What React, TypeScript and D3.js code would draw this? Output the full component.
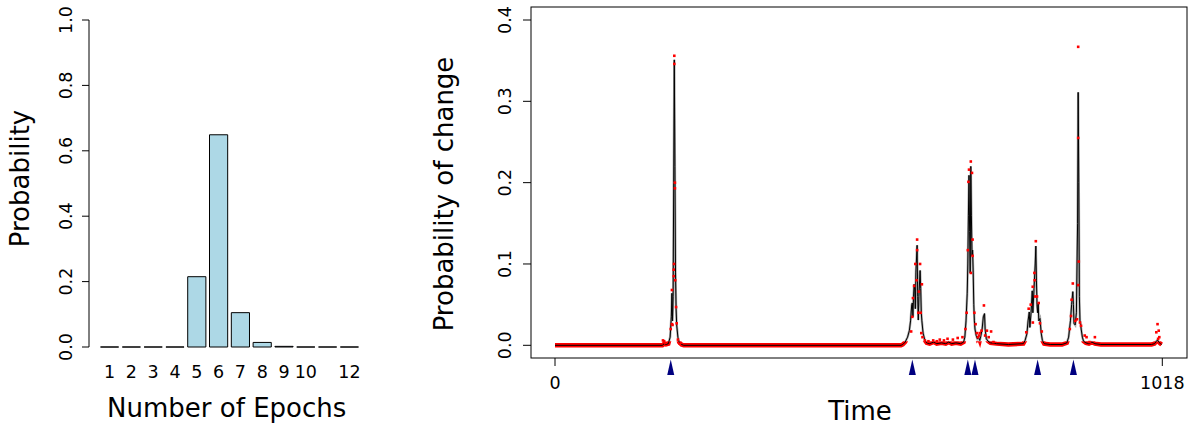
import React from 'react';
import * as d3 from 'd3';

// left panel: posterior of number of epochs
const epochs = [1, 2, 3, 4, 5, 6, 7, 8, 9, 10, 11, 12];
const epochProb = [0, 0, 0, 0, 0.215, 0.649, 0.105, 0.014, 0.002, 0, 0, 0];
const epochLabels = ['1', '2', '3', '4', '5', '6', '7', '8', '9', '10', '', '12'];
const probTicks = [0, 0.2, 0.4, 0.6, 0.8, 1.0];

// right panel: probability of change over time
const changeTicks = [0, 0.1, 0.2, 0.3, 0.4];
const timeTicks = [0, 1018];
const changePoints = [194, 599, 692, 704, 809, 869];

// [time, probability] for the black curve
const meanCurve: [number, number][] = [
  [0, 0], [180, 0], [183, 0.002], [186, 0.001], [190, 0.002], [193, 0.01], [195, 0.035],
  [196, 0.064], [197, 0.03], [198, 0.06], [199, 0.2], [200, 0.351], [201, 0.22], [202, 0.09],
  [203, 0.045], [204, 0.025], [206, 0.01], [208, 0.004], [212, 0.001], [216, 0], [580, 0],
  [583, 0.001], [587, 0.004], [591, 0.01], [594, 0.018], [596, 0.03], [598, 0.05], [599, 0.052],
  [600, 0.035], [601, 0.06], [602, 0.075], [603, 0.068], [604, 0.045], [605, 0.09], [607, 0.123],
  [608, 0.06], [609, 0.031], [610, 0.06], [612, 0.092], [613, 0.07], [614, 0.04], [615, 0.03],
  [617, 0.015], [620, 0.006], [623, 0.003], [628, 0.002], [635, 0.004], [640, 0.002], [648, 0.003],
  [655, 0.002], [660, 0.004], [665, 0.002], [672, 0.003], [680, 0.002], [685, 0.004], [687, 0.01],
  [689, 0.03], [691, 0.064], [692, 0.1], [693, 0.16], [694, 0.209], [695, 0.14], [696, 0.089],
  [697, 0.22], [698, 0.16], [699, 0.11], [700, 0.117], [701, 0.09], [702, 0.05], [703, 0.03],
  [704, 0.02], [706, 0.012], [708, 0.008], [710, 0.01], [712, 0.006], [714, 0.012], [716, 0.02],
  [718, 0.035], [720, 0.039], [721, 0.02], [723, 0.008], [726, 0.005], [730, 0.003], [740, 0.002],
  [760, 0.001], [785, 0.002], [788, 0.006], [791, 0.014], [793, 0.03], [795, 0.041], [796, 0.022],
  [798, 0.04], [800, 0.067], [801, 0.04], [803, 0.07], [805, 0.1], [806, 0.122], [807, 0.08],
  [808, 0.05], [809, 0.04], [810, 0.052], [811, 0.03], [813, 0.033], [815, 0.015], [817, 0.006],
  [820, 0.002], [830, 0.001], [850, 0.001], [858, 0.003], [861, 0.01], [864, 0.03], [866, 0.05],
  [868, 0.066], [869, 0.05], [870, 0.027], [872, 0.025], [874, 0.04], [876, 0.15], [877, 0.311],
  [878, 0.2], [879, 0.06], [880, 0.03], [881, 0.027], [882, 0.02], [884, 0.01], [886, 0.005],
  [890, 0.003], [895, 0.002], [900, 0.004], [905, 0.002], [915, 0.001], [1000, 0.001],
  [1005, 0.002], [1008, 0.005], [1010, 0.0065], [1012, 0.004], [1015, 0.002], [1017, 0.001],
];

// [time, probability] for the red points away from the baseline
const samplePoints: [number, number][] = [
  [181, 0.006], [183, 0.005], [185, 0.003], [194, 0.02], [196, 0.068], [196, 0.026], [197, 0.025],
  [199, 0.085], [199, 0.093], [199.5, 0.1], [200, 0.356], [200, 0.346], [201, 0.2], [201, 0.193],
  [201.5, 0.08], [203, 0.047], [204, 0.027], [206, 0.007], [209, 0.002],
  [597, 0.017], [599, 0.035], [600, 0.058], [602, 0.073], [604, 0.1], [606, 0.08], [607, 0.13],
  [607, 0.117], [609, 0.04], [610, 0.066], [612, 0.1], [613, 0.04], [614, 0.015], [615, 0.075],
  [616, 0.01], [620, 0.006], [626, 0.005], [634, 0.006], [640, 0.005], [645, 0.007], [652, 0.006],
  [658, 0.008], [667, 0.007], [675, 0.009], [683, 0.01], [688, 0.02], [690, 0.04], [692, 0.117],
  [693, 0.201], [694, 0.216], [697, 0.226], [697, 0.089], [699, 0.212], [700, 0.13], [700, 0.11],
  [703, 0.04], [705, 0.026], [707, 0.015], [709, 0.01], [711, 0.012], [712, 0.015], [715, 0.018],
  [719, 0.049], [721, 0.012], [724, 0.018], [727, 0.01], [731, 0.017], [735, 0.004],
  [790, 0.016], [794, 0.045], [797.5, 0.05], [800.8, 0.072], [801, 0.028], [803.6, 0.089],
  [804, 0.08], [805, 0.06], [806, 0.128], [808, 0.06], [810.8, 0.052], [813, 0.027], [816, 0.017],
  [863, 0.02], [865, 0.036], [866, 0.056], [868, 0.076], [872, 0.03], [875, 0.032], [877, 0.367],
  [877, 0.255], [877, 0.074], [878, 0.103], [880, 0.028], [881.8, 0.024], [888, 0.012],
  [891, 0.01], [896, 0.004], [905, 0.01],
  [1008, 0.016], [1010, 0.026], [1011, 0.008], [1012, 0.018], [1013, 0.01],
];

const font = 'DejaVu Sans, sans-serif';
const tickSize = 17.5;
const titleSize = 26;

const App = () => {
  // left panel scales
  const xBar = d3
    .scaleBand<number>()
    .domain(epochs)
    .range([100.5, 358.5])
    .paddingInner(0.2 / 1.2)
    .paddingOuter(0);
  const yBar = d3.scaleLinear().domain([0, 1]).range([347, 20]);

  // right panel scales
  const xTime = d3.scaleLinear().domain([0, 1018]).range([555, 1162.3]);
  const yChange = d3.scaleLinear().domain([0, 0.4]).range([345.3, 20]);
  const box = { left: 531, right: 1187, top: 7, bottom: 358 };
  const cutY = yChange(0.005);

  const line = d3
    .line<[number, number]>()
    .x((d) => xTime(d[0]))
    .y((d) => yChange(d[1]));
  const curvePath = line(meanCurve) || '';

  return (
    <svg
      width={1188}
      height={426}
      style={{ position: 'absolute', left: 0, top: 0 }}
      fontFamily={font}
    >
      <rect width={1188} height={426} fill="#fff" />

      {/* left panel */}
      {epochs.map((e, i) => {
        const x0 = xBar(e) || 0;
        const x1 = x0 + xBar.bandwidth();
        const y0 = yBar(0);
        const y1 = yBar(epochProb[i]);
        return (
          <path
            key={e}
            d={`M${x0},${y0} L${x0},${y1} L${x1},${y1} L${x1},${y0} Z`}
            fill="#add8e6"
            stroke="#000"
            strokeWidth={1}
          />
        );
      })}
      <line x1={89} x2={89} y1={yBar(0)} y2={yBar(1)} stroke="#000" />
      {probTicks.map((t) => (
        <g key={t}>
          <line x1={82} x2={89} y1={yBar(t)} y2={yBar(t)} stroke="#000" />
          <text
            transform={`translate(72,${yBar(t)}) rotate(-90)`}
            textAnchor="middle"
            fontSize={tickSize}
          >
            {t.toFixed(1)}
          </text>
        </g>
      ))}
      {epochs.map((e, i) => (
        <text
          key={e}
          x={(xBar(e) || 0) + xBar.bandwidth() / 2}
          y={377.5}
          textAnchor="middle"
          fontSize={tickSize}
        >
          {epochLabels[i]}
        </text>
      ))}
      <text x={226.7} y={416.5} textAnchor="middle" fontSize={titleSize}>
        Number of Epochs
      </text>
      <text
        transform="translate(29.3,178.5) rotate(-90)"
        textAnchor="middle"
        fontSize={titleSize}
      >
        Probability
      </text>

      {/* right panel */}
      <defs>
        <clipPath id="base-clip">
          <rect x={box.left} y={cutY} width={box.right - box.left} height={box.bottom - cutY} />
        </clipPath>
        <clipPath id="peak-clip">
          <rect x={box.left} y={box.top} width={box.right - box.left} height={cutY - box.top} />
        </clipPath>
      </defs>
      <path
        d={curvePath}
        fill="none"
        stroke="#f00"
        strokeWidth={4.4}
        clipPath="url(#base-clip)"
      />
      <path
        d={curvePath}
        fill="none"
        stroke="#888"
        strokeWidth={2.4}
        strokeOpacity={0.7}
        clipPath="url(#peak-clip)"
      />
      <path d={curvePath} fill="none" stroke="#000" strokeWidth={1} />
      {samplePoints.map((d, i) => (
        <rect
          key={i}
          x={xTime(d[0]) - 1.3}
          y={yChange(d[1]) - 1.3}
          width={2.6}
          height={2.6}
          fill="#f00"
        />
      ))}
      <rect
        x={box.left}
        y={box.top}
        width={box.right - box.left}
        height={box.bottom - box.top}
        fill="none"
        stroke="#000"
      />
      {changeTicks.map((t) => (
        <g key={t}>
          <line x1={523} x2={box.left} y1={yChange(t)} y2={yChange(t)} stroke="#000" />
          <text
            transform={`translate(511,${yChange(t)}) rotate(-90)`}
            textAnchor="middle"
            fontSize={tickSize}
          >
            {t.toFixed(1)}
          </text>
        </g>
      ))}
      {timeTicks.map((t) => (
        <g key={t}>
          <line x1={xTime(t)} x2={xTime(t)} y1={box.bottom} y2={box.bottom + 8} stroke="#000" />
          <text x={xTime(t)} y={388.8} textAnchor="middle" fontSize={tickSize}>
            {t}
          </text>
        </g>
      ))}
      {changePoints.map((t) => {
        const cx = xTime(t);
        return (
          <path
            key={t}
            d={`M${cx - 3.5},375 L${cx + 3.5},375 L${cx},359.5 Z`}
            fill="#000080"
          />
        );
      })}
      <text x={860} y={420} textAnchor="middle" fontSize={titleSize}>
        Time
      </text>
      <text
        transform="translate(453.3,194) rotate(-90)"
        textAnchor="middle"
        fontSize={titleSize}
      >
        Probability of change
      </text>
    </svg>
  );
};

export default App;
